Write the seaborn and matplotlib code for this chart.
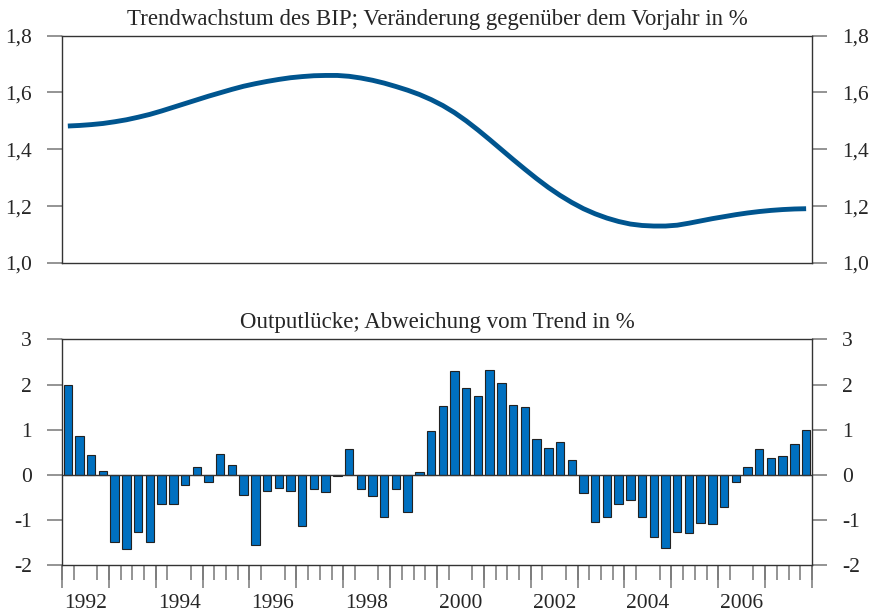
import matplotlib
matplotlib.use('Agg')
import matplotlib.pyplot as plt
import seaborn as sns
import pandas as pd

# Quarterly periods 1992Q1 - 2007Q4
years = list(range(1992, 2008))
quarters = [f'{y}Q{q}' for y in years for q in range(1, 5)]

# Trend growth of GDP, % change on previous year
trend = [1.482, 1.484, 1.487, 1.491, 1.497, 1.504, 1.513, 1.523,
         1.535, 1.548, 1.561, 1.574, 1.587, 1.599, 1.611, 1.622,
         1.631, 1.639, 1.646, 1.652, 1.656, 1.659, 1.660, 1.660,
         1.657, 1.651, 1.643, 1.633, 1.621, 1.608, 1.593, 1.575,
         1.554, 1.529, 1.500, 1.468, 1.434, 1.399, 1.364, 1.330,
         1.297, 1.266, 1.238, 1.213, 1.191, 1.173, 1.158, 1.146,
         1.137, 1.132, 1.130, 1.130, 1.133, 1.140, 1.148, 1.156,
         1.163, 1.170, 1.176, 1.181, 1.185, 1.188, 1.190, 1.191]

# Output gap, deviation from trend in %
gap = [2.00, 0.86, 0.44, 0.08, -1.48, -1.65, -1.27, -1.49,
       -0.64, -0.64, -0.22, 0.17, -0.16, 0.45, 0.21, -0.44,
       -1.55, -0.36, -0.30, -0.36, -1.14, -0.32, -0.38, -0.02,
       0.57, -0.32, -0.46, -0.93, -0.31, -0.83, 0.06, 0.98,
       1.53, 2.31, 1.93, 1.74, 2.33, 2.04, 1.55, 1.51,
       0.80, 0.60, 0.72, 0.32, -0.41, -1.04, -0.94, -0.64,
       -0.55, -0.94, -1.37, -1.63, -1.26, -1.30, -1.06, -1.08,
       -0.71, -0.15, 0.17, 0.57, 0.37, 0.41, 0.69, 0.99]

label_years = ['1992', '1994', '1996', '1998', '2000', '2002', '2004', '2006']

df = pd.DataFrame({'quarter': quarters, 'pos': range(len(quarters)),
                   'trend': trend, 'gap': gap})

sns.set_style('white')
plt.rcParams['font.family'] = ['Liberation Serif', 'DejaVu Serif']
plt.rcParams['axes.unicode_minus'] = False

frame_col = '#333333'
tick_col = '#777777'
fs = 15.5
title_fs = 16.5

fig = plt.figure(figsize=(8.73, 6.15), dpi=100)
ax1 = fig.add_axes([0.0710, 0.5724, 0.8591, 0.3696])
ax2 = fig.add_axes([0.0710, 0.0813, 0.8591, 0.3667])

# Top panel: trend growth
sns.lineplot(data=df, x='pos', y='trend', ax=ax1, color='#00558f',
             linewidth=3.5, solid_capstyle='butt')
ax1.set_xlim(-0.5, len(quarters) - 0.5)
ax1.set_ylim(1.0, 1.8)
ax1.set_yticks([1.0, 1.2, 1.4, 1.6, 1.8])
ax1.set_yticklabels(['1,0', '1,2', '1,4', '1,6', '1,8'])
ax1.set_xticks([])
ax1.set_title('Trendwachstum des BIP; Veränderung gegenüber dem Vorjahr in %',
              fontsize=title_fs, pad=8)

# Bottom panel: output gap
sns.barplot(data=df, x='quarter', y='gap', ax=ax2, color='#0070c0',
            edgecolor='#222222', linewidth=0.8, width=0.72, saturation=1)
ax2.axhline(0, color=frame_col, linewidth=1.0, zorder=1)
ax2.set_xlim(-0.5, len(quarters) - 0.5)
ax2.set_ylim(-2, 3)
ax2.set_yticks([-2, -1, 0, 1, 2, 3])
ax2.set_yticklabels(['-2', '-1', '0', '1', '2', '3'])
ax2.set_title('Outputlücke; Abweichung vom Trend in %', fontsize=title_fs, pad=8)

# year labels centred under each even year, quarter ticks short, year ticks long
ax2.set_xticks([8 * i + 1.5 for i in range(len(label_years))])
ax2.set_xticklabels(label_years)
ax2.set_xticks([q - 0.5 for q in range(len(quarters) + 1)], minor=True)
ax2.tick_params(axis='x', which='major', length=0, pad=21, labelsize=fs)
ax2.tick_params(axis='x', which='minor', length=11, width=1.1, color=tick_col,
                direction='out', bottom=True)
sec = ax2.secondary_xaxis('bottom')
sec.set_xticks([4 * i - 0.5 for i in range(len(years) + 1)])
sec.set_xticklabels([])
sec.tick_params(axis='x', length=16.5, width=1.1, color=tick_col, direction='out')
sec.spines['bottom'].set_visible(False)

for ax in (ax1, ax2):
    ax.set_xlabel('')
    ax.set_ylabel('')
    ax.tick_params(axis='y', which='major', left=True, right=True,
                   labelleft=True, labelright=True, length=10.5, width=1.1,
                   color=tick_col, direction='out', pad=11, labelsize=fs)
    for s in ax.spines.values():
        s.set_visible(True)
        s.set_color(frame_col)
        s.set_linewidth(1.0)

fig.savefig('out.png', dpi=100)
